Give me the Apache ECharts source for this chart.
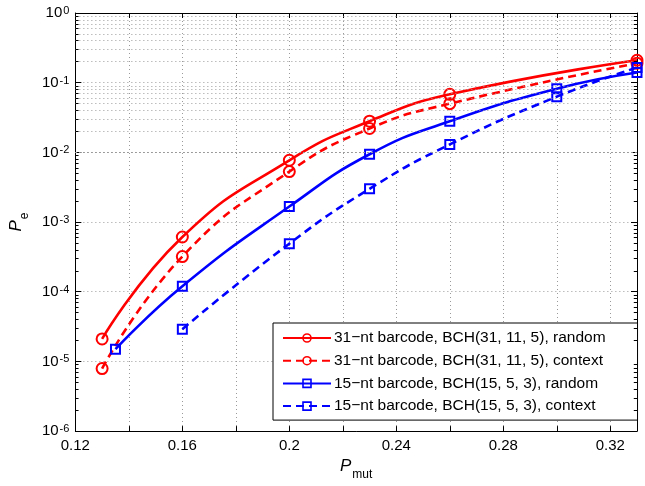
<!DOCTYPE html>
<html>
<head>
<meta charset="utf-8">
<script src="https://cdn.jsdelivr.net/npm/echarts@6/dist/echarts.min.js"></script>
<style>
  html, body { margin: 0; padding: 0; background: #fff; }
  #chart { width: 645px; height: 486px; }
</style>
</head>
<body>
<div id="chart"></div>
<script>
// mutation probability (x) for each curve
const pmutRed = [0.13, 0.16, 0.2, 0.23, 0.26, 0.33]
const pmutBlueRandom = [0.135, 0.16, 0.2, 0.23, 0.26, 0.3, 0.33]
const pmutBlueContext = [0.16, 0.2, 0.23, 0.26, 0.3, 0.33]
// error probability (y)
const pe31Random = [2.1e-5, 6.1e-4, 7.7e-3, 0.028, 0.068, 0.21]
const pe31Context = [7.9e-6, 3.2e-4, 5.3e-3, 0.022, 0.05, 0.19]
const pe15Random = [1.5e-5, 1.2e-4, 1.67e-3, 9.4e-3, 0.028, 0.082, 0.14]
const pe15Context = [2.9e-5, 4.9e-4, 3.0e-3, 0.013, 0.063, 0.165]
const seriesNames = [
  '31−nt barcode, BCH(31, 11, 5), random',
  '31−nt barcode, BCH(31, 11, 5), context',
  '15−nt barcode, BCH(15, 5, 3), random',
  '15−nt barcode, BCH(15, 5, 3), context'
]
// axis setup
const xMin = 0.12
const xMax = 0.33
const xStep = 0.02
const yDecades = [-6, -5, -4, -3, -2, -1]
const minorSteps = [2, 3, 4, 5, 6, 7, 8, 9]

const FONT = 'Liberation Sans, Arial, Helvetica, sans-serif'
const RED = '#ff0000'
const BLUE = '#0000ff'

function zip(xs, ys) {
  return xs.map((x, i) => [x, ys[i]])
}

function curve(name, xs, ys, color, dashed, symbol, size) {
  return {
    name: name,
    type: 'line',
    data: zip(xs, ys),
    smooth: 0.5,
    symbol: symbol,
    symbolSize: size,
    showAllSymbol: true,
    z: 3,
    lineStyle: { color: color, width: 2.6, type: dashed ? [8, 5] : 'solid' },
    itemStyle: { color: 'rgba(255,255,255,0)', borderColor: color, borderWidth: 2 }
  }
}

// dotted minor grid + minor ticks (log 2..9 of each decade)
const minorVals = []
yDecades.forEach(d => minorSteps.forEach(m => minorVals.push(m * Math.pow(10, d))))
const gridLines = minorVals.map(v => ({ yAxis: v }))
const tickLen = 0.0012
const minorTicks = []
minorVals.forEach(v => {
  minorTicks.push([{ coord: [xMin, v] }, { coord: [xMin + tickLen, v] }])
  minorTicks.push([{ coord: [xMax, v] }, { coord: [xMax - tickLen, v] }])
})

const chart = echarts.init(document.getElementById('chart'))

const yLabel = v => {
  const e = Math.round(Math.log10(v))
  return '{b|10}{e|' + e + '}'
}

const option = {
  animation: false,
  textStyle: { fontFamily: FONT },
  grid: { left: 63, right: 8, top: 13, bottom: 49, containLabel: false },
  legend: {
    data: seriesNames,
    orient: 'vertical',
    left: 273,
    top: 323,
    padding: [7, 32, 6, 9],
    itemGap: 6.7,
    itemWidth: 48,
    itemHeight: 10,
    backgroundColor: '#fff',
    borderColor: '#000',
    borderWidth: 1,
    borderRadius: 0,
    lineStyle: { width: 2 },
    itemStyle: { borderWidth: 1.6 },
    textStyle: { fontSize: 15.5, lineHeight: 15, color: '#000', fontFamily: FONT, padding: [0, 0, 0, -2] }
  },
  xAxis: [
    {
      type: 'value',
      min: xMin,
      max: xMax,
      interval: xStep,
      name: '{i|P}{s|mut}',
      nameLocation: 'middle',
      nameGap: 24,
      nameTextStyle: {
        rich: {
          i: { fontStyle: 'italic', fontSize: 17, fontFamily: FONT, color: '#000', lineHeight: 17, verticalAlign: 'top' },
          s: { fontSize: 12, fontFamily: FONT, color: '#000', lineHeight: 12, padding: [11, 0, 0, 1], verticalAlign: 'top' }
        }
      },
      axisLine: { onZero: false, lineStyle: { color: '#000', width: 1 } },
      axisTick: { inside: true, length: 5, lineStyle: { color: '#000' } },
      axisLabel: {
        color: '#000',
        fontSize: 15,
        margin: 7,
        showMaxLabel: false,
        formatter: v => (Math.round(v * 100) % 4 === 0 ? String(+v.toFixed(2)) : '')
      },
      splitLine: { show: true, lineStyle: { color: '#9a9a9a', type: [1, 3], width: 1 } }
    },
    {
      type: 'value',
      position: 'top',
      min: xMin,
      max: xMax,
      interval: xStep,
      axisLine: { onZero: false, lineStyle: { color: '#000', width: 1 } },
      axisTick: { inside: true, length: 5, lineStyle: { color: '#000' } },
      axisLabel: { show: false },
      splitLine: { show: false }
    }
  ],
  yAxis: [
    {
      type: 'log',
      logBase: 10,
      min: 1e-6,
      max: 1,
      splitNumber: 6,
      name: '{i|P}{s|e}',
      nameLocation: 'middle',
      nameRotate: 90,
      nameGap: 26,
      nameTextStyle: {
        rich: {
          i: { fontStyle: 'italic', fontSize: 17, fontFamily: FONT, color: '#000', lineHeight: 17, verticalAlign: 'top' },
          s: { fontSize: 12, fontFamily: FONT, color: '#000', lineHeight: 12, padding: [11, 0, 0, 1], verticalAlign: 'top' }
        }
      },
      axisLine: { onZero: false, lineStyle: { color: '#000', width: 1 } },
      axisTick: { inside: true, length: 6, lineStyle: { color: '#000' } },
      axisLabel: {
        color: '#000',
        margin: 6,
        formatter: yLabel,
        rich: {
          b: { fontSize: 15, fontFamily: FONT, color: '#000', lineHeight: 15, verticalAlign: 'bottom' },
          e: { fontSize: 11, fontFamily: FONT, color: '#000', lineHeight: 11, padding: [0, 0, 9, 1], verticalAlign: 'top' }
        }
      },
      splitLine: { show: true, lineStyle: { color: '#9a9a9a', type: [1, 3], width: 1 } }
    },
    {
      type: 'log',
      logBase: 10,
      position: 'right',
      min: 1e-6,
      max: 1,
      splitNumber: 6,
      axisLine: { onZero: false, lineStyle: { color: '#000', width: 1 } },
      axisTick: { inside: true, length: 6, lineStyle: { color: '#000' } },
      axisLabel: { show: false },
      splitLine: { show: false }
    }
  ],
  series: [
    {
      name: 'grid',
      type: 'line',
      data: [[xMin, 1e-6]],
      symbol: 'none',
      lineStyle: { opacity: 0 },
      silent: true,
      z: 1,
      markLine: {
        silent: true,
        symbol: 'none',
        animation: false,
        label: { show: false },
        emphasis: { disabled: true },
        lineStyle: { color: '#9a9a9a', type: [1, 3], width: 1 },
        data: gridLines
      }
    },
    {
      name: 'ticks',
      type: 'line',
      data: [[xMin, 1e-6]],
      symbol: 'none',
      lineStyle: { opacity: 0 },
      silent: true,
      z: 1,
      markLine: {
        silent: true,
        symbol: 'none',
        animation: false,
        label: { show: false },
        emphasis: { disabled: true },
        lineStyle: { color: '#000', type: 'solid', width: 1 },
        data: minorTicks
      }
    },
    curve(seriesNames[0], pmutRed, pe31Random, RED, false, 'circle', 11),
    curve(seriesNames[1], pmutRed, pe31Context, RED, true, 'circle', 11),
    curve(seriesNames[2], pmutBlueRandom, pe15Random, BLUE, false, 'rect', 9),
    curve(seriesNames[3], pmutBlueContext, pe15Context, BLUE, true, 'rect', 9)
  ]
}

chart.setOption(option)
</script>
</body>
</html>
